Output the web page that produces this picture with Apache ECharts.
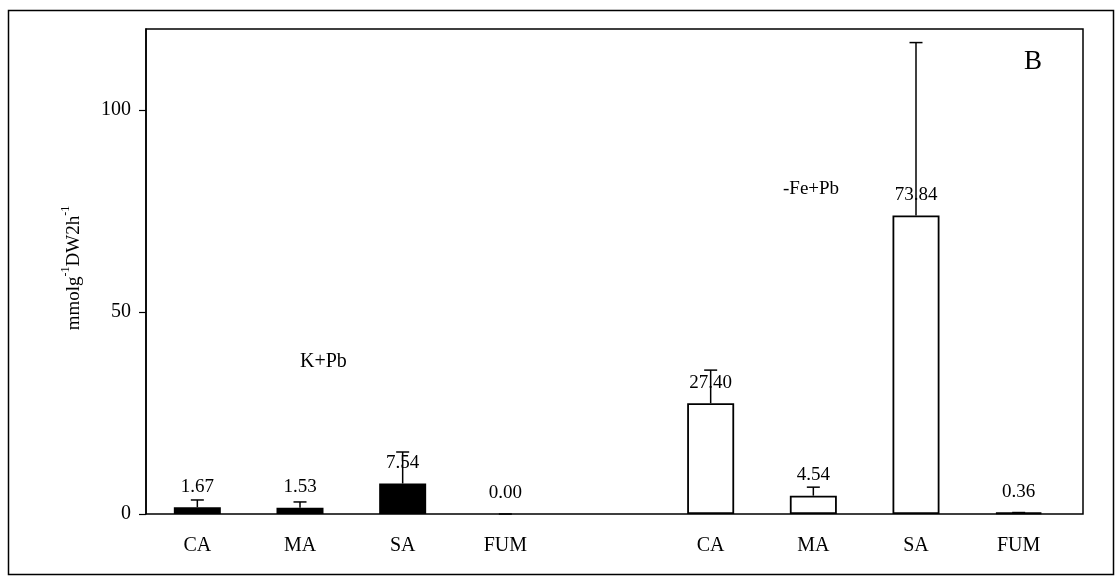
<!DOCTYPE html>
<html>
<head>
<meta charset="utf-8">
<script src="https://cdn.jsdelivr.net/npm/echarts@6/dist/echarts.min.js"></script>
<style>
html,body{margin:0;padding:0;background:#fff;}
#main{width:1115px;height:576px;}
</style>
</head>
<body>
<div id="main"></div>
<script>
// ---- data ----
const categories = ['CA', 'MA', 'SA', 'FUM', '', 'CA', 'MA', 'SA', 'FUM'];
const kPbValues = [1.67, 1.53, 7.54, 0.00];
const kPbErrors = [1.8, 1.45, 7.8, 0.0];
const fePbValues = [27.40, 4.54, 73.84, 0.36];
const fePbErrors = [8.2, 2.1, 42.8, 0.0];
const yTicks = [0, 50, 100];
const groupNames = ['K+Pb', '-Fe+Pb'];

const FONT = 'Liberation Serif';

// build series data on the 9-slot category axis
const kPbData = categories.map((c, i) => i < 4 ? kPbValues[i] : '-');
const fePbData = categories.map((c, i) => i >= 5 ? fePbValues[i - 5] : '-');
const errData = [];
kPbValues.forEach((v, i) => errData.push([i, v, kPbErrors[i]]));
fePbValues.forEach((v, i) => errData.push([i + 5, v, fePbErrors[i]]));

const chart = echarts.init(document.getElementById('main'));
const labelCfg = {
  show: true, position: 'top', distance: 11,
  fontFamily: FONT, fontSize: 19, color: '#000',
  formatter: p => Number(p.value).toFixed(2)
};

chart.setOption({
  animation: false,
  backgroundColor: '#fff',
  grid: [
    { left: 146, top: 29, width: 937, height: 485, show: true, borderColor: '#000', borderWidth: 1.5, backgroundColor: 'transparent' },
    { left: 146, top: 29, width: 924, height: 485 }
  ],
  xAxis: [
    { gridIndex: 0, type: 'value', min: 0, max: 1, show: false },
    { gridIndex: 1, type: 'category', data: categories,
      axisLine: { show: false }, axisTick: { show: false },
      axisLabel: { fontFamily: FONT, fontSize: 20, color: '#000', margin: 22, interval: 0 } }
  ],
  yAxis: [
    { gridIndex: 0, type: 'value', min: 0, max: 120,
      axisLine: { show: true, lineStyle: { color: '#000', width: 1.5 } },
      axisTick: { show: true, inside: false, length: 7, lineStyle: { color: '#000', width: 1.2 }, customValues: yTicks },
      axisLabel: { fontFamily: FONT, fontSize: 20, color: '#000', margin: 15, customValues: yTicks },
      splitLine: { show: false } },
    { gridIndex: 1, type: 'value', min: 0, max: 120, show: false }
  ],
  series: [
    { name: groupNames[0], type: 'bar', xAxisIndex: 1, yAxisIndex: 1, data: kPbData,
      barWidth: 47, barGap: '-100%',
      itemStyle: { color: '#000', borderWidth: 0 },
      label: labelCfg },
    { name: groupNames[1], type: 'bar', xAxisIndex: 1, yAxisIndex: 1, data: fePbData,
      barWidth: 47, barGap: '-100%',
      itemStyle: { color: '#fff', borderColor: '#000', borderWidth: 1.8 },
      label: labelCfg },
    { type: 'custom', xAxisIndex: 1, yAxisIndex: 1, data: errData, z: 5,
      renderItem: function (params, api) {
        const x = api.value(0), v = api.value(1), e = api.value(2);
        const base = api.coord([x, v]);
        const top = api.coord([x, v + e]);
        const hw = 6.5;
        return {
          type: 'group',
          children: [
            { type: 'line', shape: { x1: base[0], y1: base[1], x2: top[0], y2: top[1] }, style: { stroke: '#000', lineWidth: 1.5 } },
            { type: 'line', shape: { x1: top[0] - hw, y1: top[1], x2: top[0] + hw, y2: top[1] }, style: { stroke: '#000', lineWidth: 1.5 } }
          ]
        };
      } }
  ],
  graphic: [
    { type: 'rect', shape: { x: 8.5, y: 10.5, width: 1105, height: 564 }, style: { fill: 'none', stroke: '#000', lineWidth: 1.5 }, z: 100 },
    { type: 'text', left: 1024, top: 48, style: { text: 'B', fontFamily: FONT, fontSize: 27, fill: '#000' } },
    { type: 'text', left: 783, top: 180, style: { text: groupNames[1], fontFamily: FONT, fontSize: 19, fill: '#000' } },
    { type: 'text', left: 300, top: 352, style: { text: groupNames[0], fontFamily: FONT, fontSize: 20, fill: '#000' } },
    { type: 'text', x: 72, y: 268, rotation: Math.PI / 2,
      style: {
        text: '{n|mmolg}{s|-1}{n|DW2h}{s|-1}',
        align: 'center', verticalAlign: 'middle', fill: '#000',
        rich: {
          n: { fontFamily: FONT, fontSize: 19, lineHeight: 24, verticalAlign: 'bottom' },
          s: { fontFamily: FONT, fontSize: 12, lineHeight: 24, verticalAlign: 'top' }
        }
      } }
  ]
});
</script>
</body>
</html>
